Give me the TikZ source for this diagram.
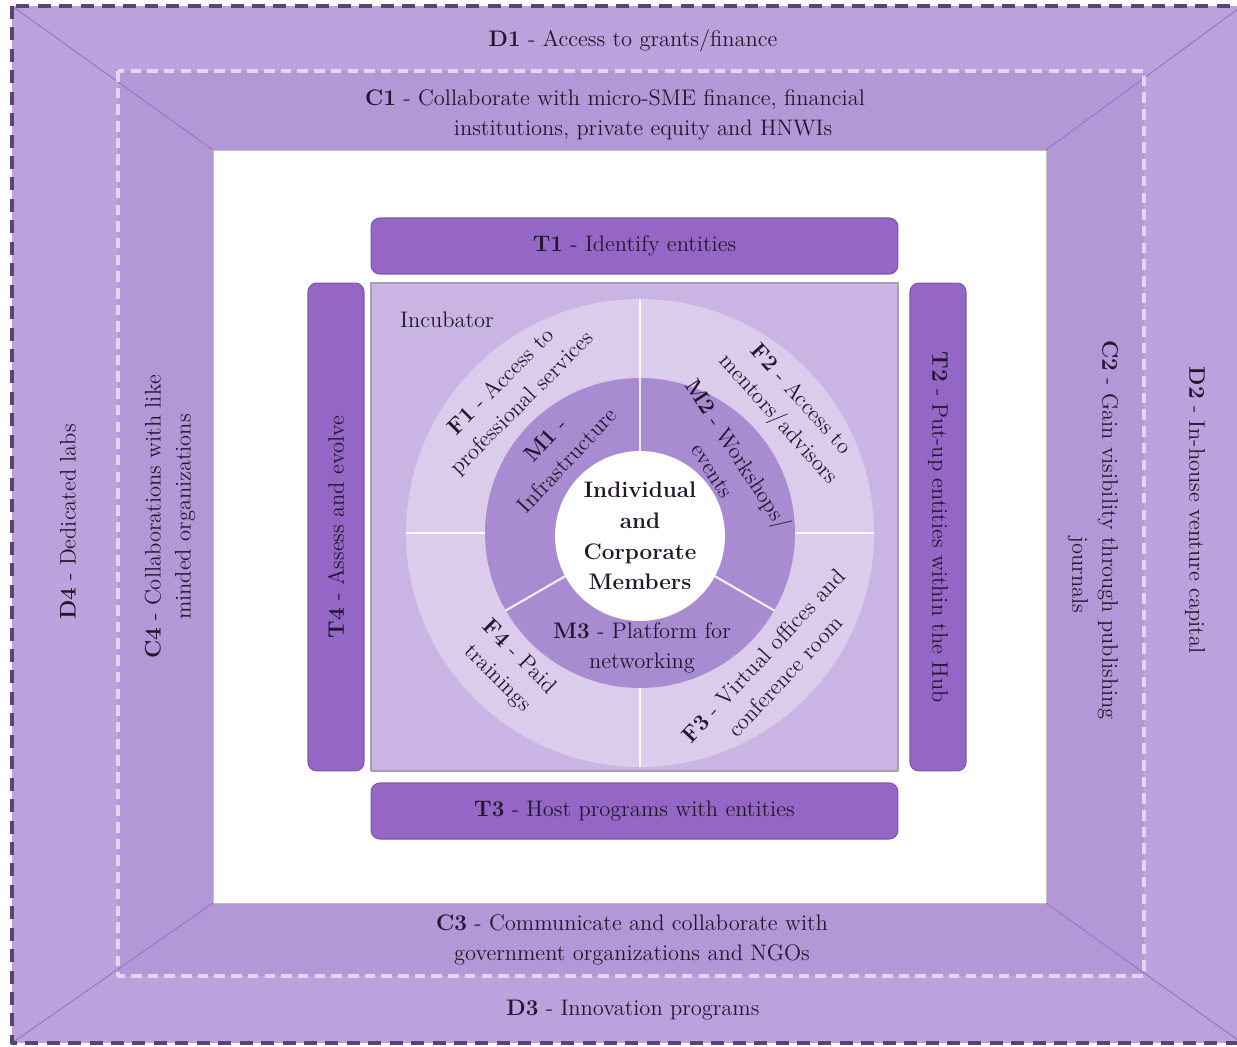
\documentclass[tikz,border=0pt]{standalone}
\usepackage{fontspec}

\definecolor{outerband}{HTML}{BCA1DC}
\definecolor{innerband}{HTML}{B497D6}
\definecolor{diagline}{HTML}{9878C6}
\definecolor{outeredge}{HTML}{584476}
\definecolor{innerdash}{HTML}{E4D6F1}
\definecolor{taskfill}{HTML}{9466C6}
\definecolor{taskedge}{HTML}{7C56AC}
\definecolor{hubfill}{HTML}{CAB4E3}
\definecolor{hubedge}{HTML}{A99DB4}
\definecolor{ringF}{HTML}{DCCCEC}
\definecolor{ringM}{HTML}{A98BD1}
\definecolor{inktext}{HTML}{22182C}

\begin{document}
\begin{tikzpicture}[x=0.02cm,y=-0.02cm,line join=round,
    every node/.style={font=\fontsize{12.8}{17}\selectfont,text=inktext},
    lbl/.style={align=center,inner sep=0pt},
    tbox/.style={fill=taskfill,draw=taskedge,line width=0.6pt,rounded corners=5pt,
        minimum height=1.12cm,inner sep=0pt}]
    \useasboundingbox (0,0) rectangle (1237,1047);

    \fill[outerband] (12,6) rectangle (1245,1043);
    \fill[innerband] (118,71) rectangle (1144,976);
    \filldraw[fill=white,draw=black!25,line width=0.5pt] (213,150) rectangle (1046,903);

    \coordinate (o1) at (12,6);    \coordinate (w1) at (213,150);
    \coordinate (o2) at (1242,6);  \coordinate (w2) at (1046,150);
    \coordinate (o3) at (1242,1043); \coordinate (w3) at (1046,903);
    \coordinate (o4) at (12,1043); \coordinate (w4) at (213,903);
    \foreach \p/\q in {o1/w1,o2/w2,o3/w3,o4/w4} {
        \draw[diagline,line width=0.6pt] (\p) -- (\q);
    }

    \draw[innerdash,line width=2pt,dash pattern=on 6pt off 3.5pt] (118,71) rectangle (1144,976);
    \draw[outeredge,line width=2.2pt,dash pattern=on 7.4pt off 4.8pt] (12,6) rectangle (1245,1043);

    \node[lbl] (d1) at (633,41) {\textbf{D1} - Access to grants/finance};
    \node[lbl] (c1) at (615,115) {\textbf{C1} - Collaborate with micro-SME finance, financial\\\hspace*{2.5em}institutions, private equity and HNWIs};
    \node[lbl,rotate=-90] (d2) at (1195,510) {\textbf{D2} - In-house venture capital};
    \node[lbl,rotate=-90] (c2) at (1093,530) {\textbf{C2} - Gain visibility through publishing\\\hspace*{4em}journals};
    \node[lbl] (c3) at (632,940) {\textbf{C3} - Communicate and collaborate with\\government organizations and NGOs};
    \node[lbl] (d3) at (633,1010) {\textbf{D3} - Innovation programs};
    \node[lbl,rotate=90] (c4) at (170,517) {\textbf{C4} - Collaborations with like\\minded organizations};
    \node[lbl,rotate=90] (d4) at (68,522) {\textbf{D4} - Dedicated labs};

    \node[tbox,minimum width=10.54cm] (t1) at (634.5,246) {\textbf{T1} - Identify entities};
    \node[tbox,minimum width=9.76cm,rotate=-90] (t2) at (938,527) {\textbf{T2} - Put-up entities within the Hub};
    \node[tbox,minimum width=10.54cm] (t3) at (634.5,811) {\textbf{T3} - Host programs with entities};
    \node[tbox,minimum width=9.76cm,rotate=90] (t4) at (336,527) {\textbf{T4} - Assess and evolve};

    \node[draw=hubedge,fill=hubfill,line width=0.8pt,minimum width=10.54cm,minimum height=9.76cm] (hub) at (634.5,527) {};
    \node[lbl] (incubator) at (447,320) {Incubator};

    \node[circle,fill=ringF,minimum size=9.36cm,inner sep=0pt] (fring) at (640,533) {};
    \foreach \a in {0,90,180,270} {
        \draw[white,line width=1.3pt] (fring.center) -- (fring.\a);
    }
    \node[circle,fill=ringM,minimum size=6.2cm,inner sep=0pt] (mring) at (640,533) {};
    \foreach \a in {90,210,330} {
        \draw[white!85!ringM,line width=1.2pt] (mring.center) -- (mring.\a);
    }
    \node[circle,fill=white,minimum size=3.4cm,inner sep=0pt,align=center,font=\fontsize{12.8}{17.5}\selectfont\bfseries] (core) at (640,536) {Individual\\and\\Corporate\\Members};

    \node[lbl,rotate=45] (f1) at (512,393) {\textbf{F1} - Access to\\professional services};
    \node[lbl,rotate=-48] (f2) at (789,410) {\textbf{F2} - Access to\\mentors/advisors};
    \node[lbl,rotate=47] (f3) at (774,666) {\textbf{F3} - Virtual offices and\\conference room};
    \node[lbl,rotate=-45] (f4) at (508,668) {\textbf{F4} - Paid\\trainings};

    \node[lbl,rotate=47] (m1) at (556,450) {\textbf{M1} -\\Infrastructure};
    \node[lbl,rotate=-57] (m2) at (726,462) {\textbf{M2} - Workshops/\\events};
    \node[lbl] (m3) at (642,648) {\textbf{M3} - Platform for\\networking};
\end{tikzpicture}
\end{document}
